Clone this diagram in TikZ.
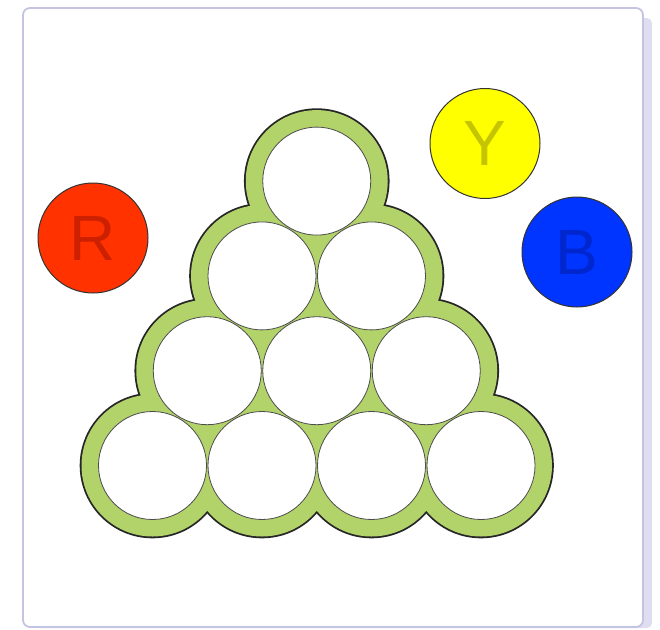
\documentclass[tikz,border=0pt]{standalone}
\usepackage{fontspec}
\setmainfont{Liberation Sans}
\definecolor{ringgreen}{RGB}{178,210,106}
\definecolor{framecol}{RGB}{196,196,226}
\definecolor{shadowcol}{RGB}{222,222,240}
\definecolor{chipred}{RGB}{255,50,0}
\definecolor{letterred}{RGB}{205,32,0}
\definecolor{chipyellow}{RGB}{255,255,0}
\definecolor{letteryellow}{RGB}{196,196,0}
\definecolor{chipblue}{RGB}{0,52,255}
\definecolor{letterblue}{RGB}{0,38,205}
\tikzset{
  ball/.style={circle, draw=black!70, line width=0.8pt, fill=white, minimum size=108pt, inner sep=0pt},
  chip/.style={circle, draw=black!80, line width=1pt, minimum size=110pt, inner sep=0pt,
    font=\fontsize{64}{64}\selectfont},
  ringedge/.style={draw=black!85, line width=3.6pt},
  ringfill/.style={fill=ringgreen},
}
\begin{document}
\begin{tikzpicture}[x=1pt,y=-1pt]
\useasboundingbox (0,0) rectangle (660,629);
% frame with shadow
\fill[shadowcol, rounded corners=5pt] (34,18) rectangle (652,628);
\draw[framecol, line width=1.8pt, fill=white, rounded corners=7pt] (23,8) rectangle (643,627);
% ball centres
\coordinate (p1) at (152.5,465.5);
\coordinate (p2) at (262,465.5);
\coordinate (p3) at (371.5,465.5);
\coordinate (p4) at (481,465.5);
\coordinate (p5) at (207.25,370.7);
\coordinate (p6) at (316.75,370.7);
\coordinate (p7) at (426.25,370.7);
\coordinate (p8) at (262,275.9);
\coordinate (p9) at (371.5,275.9);
\coordinate (p10) at (316.75,181.1);
% green rack: outline then fill
\foreach \i in {1,...,10} \draw[ringedge] (p\i) circle (71);
\foreach \i in {1,...,10} \fill[ringfill] (p\i) circle (71);
% white balls
\foreach \i in {1,...,10} \node[ball] (b\i) at (p\i) {};
% coloured chips
\node[chip, fill=chipred, text=letterred] (R) at (93,238) {R};
\node[chip, fill=chipyellow, text=letteryellow] (Y) at (485,143.5) {Y};
\node[chip, fill=chipblue, text=letterblue] (B) at (577,252) {B};
\end{tikzpicture}
\end{document}
